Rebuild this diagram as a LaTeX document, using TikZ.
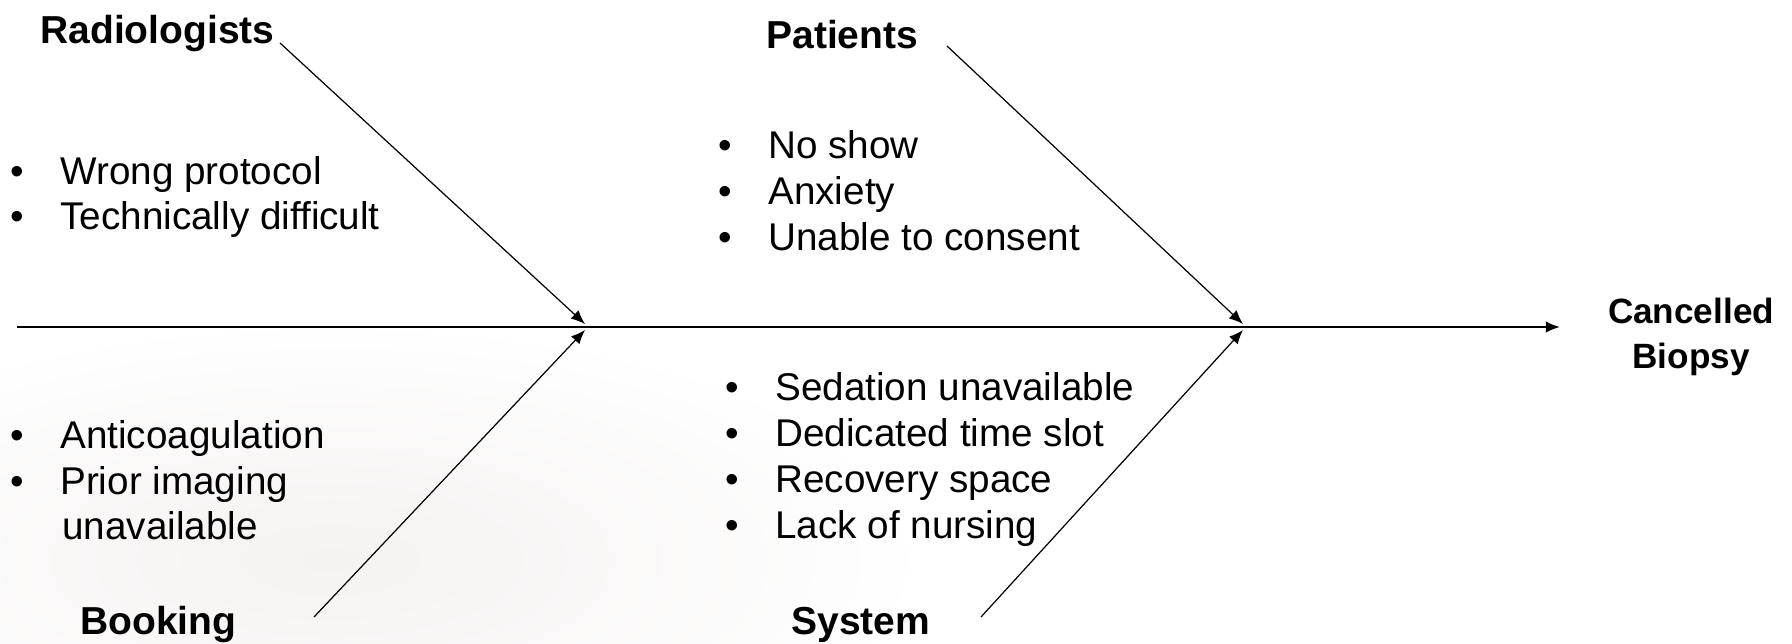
\documentclass[tikz,border=0pt]{standalone}
\usepackage{fontspec}
\setmainfont{Liberation Sans}
\usetikzlibrary{arrows.meta}
% bullet hung to the left of the item text
\newcommand{\bul}{\llap{\textbullet\hspace*{0.72cm}}}
\definecolor{wash}{RGB}{245,242,241}
\begin{document}
\begin{tikzpicture}[x=0.02cm,y=-0.02cm,
  cat/.style={font=\bfseries\fontsize{22.2}{26}\selectfont, inner sep=0pt, anchor=base west},
  item/.style={font=\fontsize{22}{26}\selectfont, inner sep=0pt, anchor=base west},
  spine/.style={line width=1.1pt,-{Latex[length=8pt,width=6.5pt]}},
  bone/.style={line width=0.7pt,-{Latex[length=8pt,width=6.5pt]}}]
\useasboundingbox (0,0) rectangle (1792,644);

% faint wash in the lower left
\begin{scope}
\clip (0,330) rectangle (1792,644);
\shade[inner color=wash, outer color=white] (330,560) ellipse [x radius=600, y radius=240];
\end{scope}

% main spine and junctions
\coordinate (tail) at (17,327);
\coordinate (j1) at (585,327);
\coordinate (j2) at (1243,327);
\coordinate (head) at (1560,327);
\node[font=\bfseries\fontsize{20}{25.5}\selectfont, align=center, inner sep=0pt] (effect) at (1691,337) {Cancelled\\Biopsy};
\draw[spine] (tail) -- (head);

% category labels
\node[cat] (rad) at (40,44) {Radiologists};
\node[cat] (pat) at (766,49) {Patients};
\node[cat] (boo) at (80,635) {Booking};
\node[cat] (sys) at (791,635) {System};

% bone start points
\coordinate (radb) at (280,43);
\coordinate (patb) at (947,46);
\coordinate (boob) at (314,617);
\coordinate (sysb) at (981,617);

\draw[bone] (radb) -- ([yshift=0.06cm]j1);
\draw[bone] (patb) -- ([yshift=0.06cm]j2);
\draw[bone] (boob) -- ([yshift=-0.06cm]j1);
\draw[bone] (sysb) -- ([yshift=-0.06cm]j2);

% cause lists
\node[item] (r1) at (60,185) {\bul Wrong protocol};
\node[item] (r2) at (60,230) {\bul Technically difficult};

\node[item] (p1) at (768,159) {\bul No show};
\node[item] (p2) at (768,205) {\bul Anxiety};
\node[item] (p3) at (768,251) {\bul Unable to consent};

\node[item] (b1) at (60,449) {\bul Anticoagulation};
\node[item] (b2) at (60,495) {\bul Prior imaging};
\node[item] (b3) at (62,540) {unavailable};

\node[item] (s1) at (775,401) {\bul Sedation unavailable};
\node[item] (s2) at (775,447) {\bul Dedicated time slot};
\node[item] (s3) at (775,493) {\bul Recovery space};
\node[item] (s4) at (775,539) {\bul Lack of nursing};
\end{tikzpicture}
\end{document}
